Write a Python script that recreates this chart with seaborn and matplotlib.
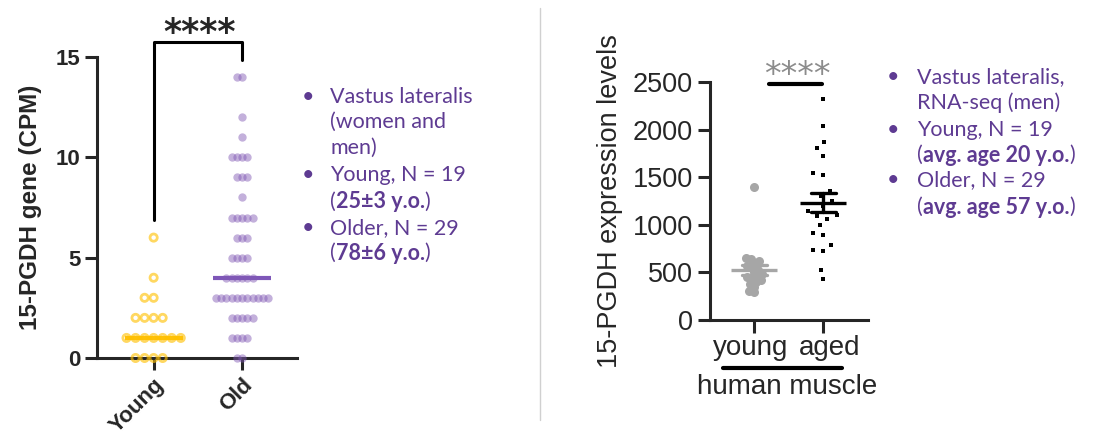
import numpy as np
import pandas as pd
import matplotlib
matplotlib.use("Agg")
import matplotlib.pyplot as plt
import matplotlib.transforms as mtransforms
import seaborn as sns
from matplotlib.lines import Line2D

# ---- left panel: 15-PGDH CPM per subject ----
left_groups = ["Young", "Old"]
young_cpm = [6, 4, 3, 3, 2, 2, 2, 2, 1, 1, 1, 1, 1, 1, 1, 0, 0, 0, 0]
old_cpm = [14, 14, 12, 11, 10, 10, 10, 10, 9, 9, 9, 8,
           7, 7, 7, 7, 7, 6, 6, 6, 5, 5, 5, 5,
           4, 4, 4, 4, 4, 4,
           3, 3, 3, 3, 3, 3, 3, 3, 3, 3, 3,
           2, 2, 2, 2, 2, 1, 1, 1, 1, 0, 0]

# ---- right panel: expression levels ----
right_groups = ["young", "aged"]
young_expr = [1400, 650, 640, 620, 600, 570, 550, 530, 500, 480, 460,
              450, 440, 420, 400, 380, 350, 300, 290]
aged_expr = [2318, 2043, 1874, 1804, 1726, 1540, 1522, 1350, 1300, 1250,
             1200, 1150, 1100, 1092, 1060, 994, 916, 898, 785, 740, 722,
             529, 430]

purple_txt = "#5E3B92"

sns.set_style("ticks")
plt.rcParams["font.family"] = ["Liberation Sans", "DejaVu Sans"]
plt.rcParams["axes.linewidth"] = 2.2

fig = plt.figure(figsize=(10.94, 4.38), dpi=100)
ax1 = fig.add_axes([97 / 1094, 1 - 358 / 438, 200 / 1094, 301 / 438])
ax2 = fig.add_axes([710 / 1094, 1 - 320 / 438, 158 / 1094, 238 / 438])

left = pd.DataFrame({
    "group": ["Young"] * len(young_cpm) + ["Old"] * len(old_cpm),
    "cpm": young_cpm + old_cpm,
})
right = pd.DataFrame({
    "group": ["young"] * len(young_expr) + ["aged"] * len(aged_expr),
    "level": young_expr + aged_expr,
})

resize = []  # (collection, final marker size) - swarm laid out with smaller markers


def swarm(ax, data, x, y, order, size, show_size=None, **kw):
    n0 = len(ax.collections)
    sns.swarmplot(data=data, x=x, y=y, order=order, size=size, ax=ax,
                  clip_on=False, **kw)
    for c in list(ax.collections[n0:]):
        if len(c.get_offsets()) == 0:
            c.remove()  # empty category would otherwise paint at the figure corner
        elif show_size is not None:
            resize.append((c, show_size))


# left panel points
swarm(ax1, left[left.group == "Young"], "group", "cpm", left_groups, 4.2,
      show_size=5.2, facecolor="none", edgecolor="#FFC000", linewidth=2,
      alpha=0.62)
swarm(ax1, left[left.group == "Old"], "group", "cpm", left_groups, 3.6,
      show_size=6, color="#825AB5", alpha=0.48, linewidth=0)
sns.pointplot(data=left, x="group", y="cpm", order=left_groups, hue="group",
              palette={"Young": "#FFC107", "Old": "#7E57B8"},
              estimator="median", errorbar=None, marker="_", markersize=42,
              markeredgewidth=3, linestyle="none", legend=False, ax=ax1)

ax1.set_xlim(-0.64, 1.62)
ax1.set_ylim(0, 15)
ax1.set_yticks([0, 5, 10, 15])
ax1.set_xlabel("")
ax1.set_ylabel("15-PGDH gene (CPM)", fontsize=17.5, fontweight="bold")
ax1.yaxis.set_label_coords(-0.275, 0.5)
ax1.tick_params(width=2.2, length=8.5, labelsize=16)
for lab in ax1.get_yticklabels():
    lab.set_fontweight("bold")
ax1.set_xticks([0, 1])
ax1.set_xticklabels(left_groups, rotation=45, ha="right",
                    rotation_mode="anchor", fontweight="bold", fontsize=16)
sns.despine(ax=ax1)
ax1.plot([0, 0, 1, 1], [6.9, 15.76, 15.76, 14.85], color="black", lw=2.2,
         clip_on=False)
ax1.text(0.52, 15.7, "****", ha="center", va="baseline", fontsize=25,
         fontweight="bold", family="DejaVu Sans")

# right panel points
swarm(ax2, right[right.group == "young"], "group", "level", right_groups, 3.6,
      show_size=6.5, color="#A6A6A6", linewidth=0)
swarm(ax2, right[right.group == "aged"], "group", "level", right_groups, 7,
      show_size=3, color="black", marker="s", linewidth=0)
sns.pointplot(data=right, x="group", y="level", order=right_groups, hue="group",
              palette={"young": "#A6A6A6", "aged": "black"},
              estimator="mean", errorbar="se", capsize=0.36, marker="_",
              markersize=33, markeredgewidth=2.4, linestyle="none",
              err_kws={"linewidth": 2.4}, legend=False, ax=ax2)

ax2.set_xlim(-0.64, 1.65)
ax2.set_ylim(0, 2500)
ax2.set_yticks(range(0, 2501, 500))
ax2.set_xlabel("")
ax2.set_ylabel("15-PGDH expression levels", fontsize=19.5)
ax2.yaxis.set_label_coords(-0.55, 0.5)
ax2.tick_params(width=2.2, length=9, labelsize=19.5)
ax2.tick_params(axis="x", pad=2, labelsize=20)
for lab, dx in zip(ax2.get_xticklabels(), [-4, 6]):
    lab.set_transform(lab.get_transform()
                      + mtransforms.ScaledTranslation(dx / 100, 0, fig.dpi_scale_trans))
sns.despine(ax=ax2)
ax2.plot([0.22, 0.98], [2484, 2484], color="black", lw=3, clip_on=False)
ax2.text(0.63, 2468, "****", ha="center", va="baseline", fontsize=24,
         color="#8C8C8C", family="DejaVu Sans")
ax2.plot([-0.45, 1.28], [-0.2, -0.2], color="black", lw=3,
         transform=ax2.get_xaxis_transform(), clip_on=False)
ax2.text(0.48, -0.28, "human muscle", ha="center", va="center", fontsize=20,
         transform=ax2.get_xaxis_transform())

# separator between the two panels
fig.add_artist(Line2D([540 / 1094, 540 / 1094], [1 - 8 / 438, 1 - 420 / 438],
                      color="#D0D0D0", lw=1))


# side notes
def note_line(ax, x, y, parts, size=15.5):
    prev = None
    for txt, weight in parts:
        kw = dict(fontsize=size, fontweight=weight, color=purple_txt,
                  family=["Lato", "DejaVu Sans"], va="center", ha="left",
                  annotation_clip=False)
        if prev is None:
            prev = ax.annotate(txt, xy=(x / 1094, 1 - y / 438),
                               xycoords="figure fraction", **kw)
        else:
            prev = ax.annotate(txt, xy=(1, 0.5), xycoords=prev, **kw)


def bullet(ax, x, y, size=15.5):
    ax.annotate("\u2022", xy=(x / 1094, 1 - y / 438), xycoords="figure fraction",
                fontsize=size, color=purple_txt, ha="center", va="center",
                family=["Lato", "DejaVu Sans"], annotation_clip=False)


left_notes = [
    (97, True, [("Vastus lateralis", "normal")]),
    (122, False, [("(women and", "normal")]),
    (148, False, [("men)", "normal")]),
    (175, True, [("Young, N = 19", "normal")]),
    (202, False, [("(", "normal"), ("25\u00b13 y.o.", "bold"), (")", "normal")]),
    (228, True, [("Older, N = 29", "normal")]),
    (253, False, [("(", "normal"), ("78\u00b16 y.o.", "bold"), (")", "normal")]),
]
right_notes = [
    (77, True, [("Vastus lateralis,", "normal")]),
    (103, False, [("RNA-seq (men)", "normal")]),
    (130, True, [("Young, N = 19", "normal")]),
    (155, False, [("(", "normal"), ("avg. age 20 y.o.", "bold"), (")", "normal")]),
    (180, True, [("Older, N = 29", "normal")]),
    (207, False, [("(", "normal"), ("avg. age 57 y.o.", "bold"), (")", "normal")]),
]
for y, b, parts in left_notes:
    if b:
        bullet(ax1, 308, y)
    note_line(ax1, 330, y, parts)
for y, b, parts in right_notes:
    if b:
        bullet(ax2, 893, y)
    note_line(ax2, 917, y, parts)

# lay out the swarms, then freeze positions and enlarge/shrink markers
fig.canvas.draw()
for coll, s in resize:
    if "draw" in coll.__dict__:
        del coll.draw
    coll.set_sizes([s ** 2])

fig.savefig("out.png", dpi=100)
plt.close()
